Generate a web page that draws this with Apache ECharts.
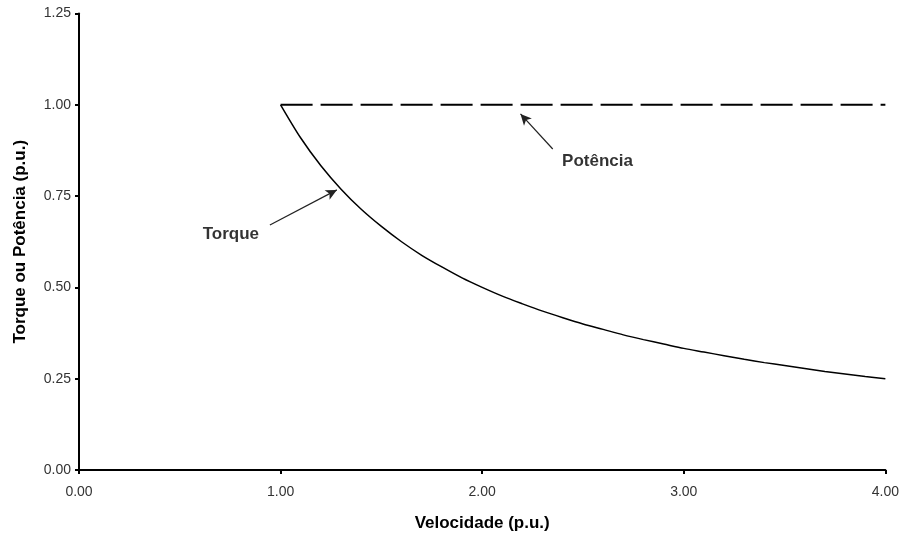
<!DOCTYPE html>
<html>
<head>
<meta charset="utf-8">
<style>
  html, body { margin: 0; padding: 0; background: #fff; }
  #main { width: 902px; height: 545px; }
</style>
<script src="https://cdn.jsdelivr.net/npm/echarts@6/dist/echarts.min.js"></script>
</head>
<body>
<div id="main"></div>
<script>
// velocidade (p.u.) e torque
var velocidade = [1.0, 1.1, 1.2, 1.3, 1.4, 1.5, 1.6, 1.7, 1.8, 1.9, 2.0, 2.1, 2.2, 2.3, 2.4, 2.5, 2.6, 2.7, 2.8, 2.9, 3.0, 3.1, 3.2, 3.3, 3.4, 3.5, 3.6, 3.7, 3.8, 3.9, 4.0]
var torque = [1.000, 0.909, 0.833, 0.769, 0.714, 0.667, 0.625, 0.588, 0.556, 0.526, 0.500, 0.476, 0.455, 0.435, 0.417, 0.400, 0.385, 0.370, 0.357, 0.345, 0.333, 0.323, 0.313, 0.303, 0.294, 0.286, 0.278, 0.270, 0.263, 0.256, 0.250]
var potenciaX = [1.0, 4.0]
var potencia = [1.0, 1.0]
var xTicks = ['0.00', '1.00', '2.00', '3.00', '4.00']
var yTicks = ['0.00', '0.25', '0.50', '0.75', '1.00', '1.25']

// setas e rótulos (coordenadas de dados)
var setaTorque = [[0.947, 0.671], [1.279, 0.767]]
var setaPotencia = [[2.35, 0.879], [2.19, 0.975]]
var rotTorque = [0.753, 0.646]
var rotPotencia = [2.572, 0.846]

var myChart = echarts.init(document.getElementById('main'))

var labelFont = {
  color: '#333',
  fontFamily: 'Liberation Sans, Arial, sans-serif',
  fontSize: 14
}
var boldFont = {
  color: '#000',
  fontFamily: 'Liberation Sans, Arial, sans-serif',
  fontSize: 17,
  fontWeight: 'bold'
}

function seta (pts) {
  return {
    type: 'line',
    data: [],
    silent: true,
    markLine: {
      silent: true,
      symbol: ['none', 'arrow'],
      symbolSize: [8, 11],
      lineStyle: { color: '#222', width: 1.2, type: 'solid' },
      label: { show: false },
      animation: false,
      data: [[{ coord: pts[0] }, { coord: pts[1] }]]
    }
  }
}

function rotulo (txt, pos) {
  return {
    type: 'scatter',
    data: [pos],
    symbolSize: 0,
    silent: true,
    label: Object.assign({ show: true, position: 'inside', formatter: txt, textBorderWidth: 0 }, boldFont)
  }
}

myChart.setOption({
  animation: false,
  backgroundColor: '#fff',
  grid: { left: 79, right: 16, top: 13.5, bottom: 75 },
  xAxis: {
    type: 'value',
    min: 0,
    max: 4,
    interval: 1,
    name: 'Velocidade (p.u.)',
    nameLocation: 'middle',
    nameGap: 45,
    nameTextStyle: boldFont,
    axisLine: { lineStyle: { color: '#000', width: 2 } },
    axisTick: { show: true, length: 4, lineStyle: { color: '#000', width: 2 } },
    axisLabel: Object.assign({ margin: 15, formatter: function (v) { return xTicks[Math.round(v)] } }, labelFont),
    splitLine: { show: false }
  },
  yAxis: {
    type: 'value',
    min: 0,
    max: 1.25,
    interval: 0.25,
    name: 'Torque ou Potência (p.u.)',
    nameLocation: 'middle',
    nameGap: 50,
    nameTextStyle: boldFont,
    axisLine: { show: true, lineStyle: { color: '#000', width: 2 } },
    axisTick: { show: true, length: 4, lineStyle: { color: '#000', width: 2 } },
    axisLabel: Object.assign({ margin: 8, formatter: function (v) { return yTicks[Math.round(v / 0.25)] } }, labelFont),
    splitLine: { show: false }
  },
  series: [{
    name: 'Torque',
    type: 'line',
    smooth: 0.3,
    showSymbol: false,
    lineStyle: { color: '#000', width: 1.5 },
    data: velocidade.map(function (v, i) { return [v, torque[i]] })
  }, {
    name: 'Potência',
    type: 'line',
    showSymbol: false,
    lineStyle: { color: '#000', width: 2, type: [32, 8] },
    data: potenciaX.map(function (v, i) { return [v, potencia[i]] })
  },
  seta(setaTorque),
  seta(setaPotencia),
  rotulo('Torque', rotTorque),
  rotulo('Potência', rotPotencia)
  ]
})
</script>
</body>
</html>
